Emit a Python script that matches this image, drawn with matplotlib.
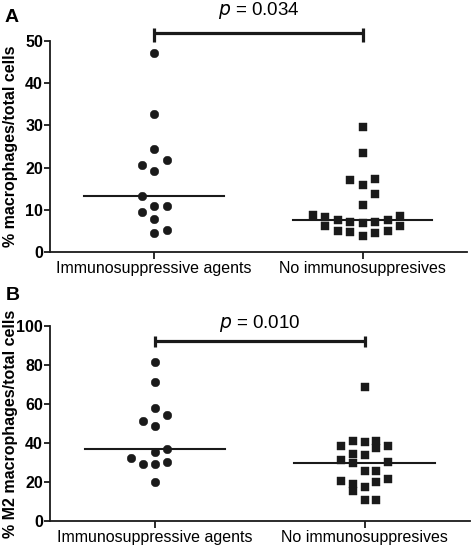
import numpy as np
import matplotlib
matplotlib.use("Agg")
import matplotlib.pyplot as plt

plt.rcParams['font.family'] = ['Liberation Sans', 'DejaVu Sans']

groups = ["Immunosuppressive agents", "No immunosuppresives"]

# panel A: % macrophages / total cells
a_immuno = [47.2, 32.8, 24.3, 21.7, 20.6, 19.1, 13.2, 10.8, 10.8, 9.4, 7.9, 5.1, 4.6]
a_immuno_col = [0, 0, 0, 1, -1, 0, -1, 0, 1, -1, 0, 1, 0]
a_none = [29.7, 23.4, 17.1, 15.9, 17.4, 13.7, 11.1, 8.8, 8.3, 6.2, 7.6, 7.1, 6.9,
          7.1, 7.6, 8.5, 6.2, 5.0, 4.7, 3.9, 4.4, 5.0]
a_none_col = [0, 0, -1, 0, 1, 1, 0, -4, -3, -3, -2, -1, 0, 1, 2, 3, 3, -2, -1, 0, 1, 2]
a_p = "0.034"

# panel B: % M2 macrophages / total cells
b_immuno = [81.7, 71.4, 57.7, 54.5, 51.2, 48.7, 37.1, 35.4, 32.4, 30.5, 29.0, 29.0, 19.9]
b_immuno_col = [0, 0, 0, 1, -1, 0, 1, 0, -2, 1, -1, 0, 0]
b_none = [68.8, 38.5, 41.1, 40.6, 41.1, 37.2, 38.5, 34.6, 33.7, 31.2, 29.8, 30.1,
          25.5, 25.5, 20.5, 19.2, 15.3, 17.2, 19.9, 21.4, 10.6, 11.0]
b_none_col = [0, -2, -1, 0, 1, 1, 2, -1, 0, -2, -1, 2, 0, 1, -2, -1, -1, 0, 1, 2, 0, 1]
b_p = "0.010"

INK = '#1a1a1a'


def panel(ax, immuno, immuno_col, none, none_col, ymax, ystep, spacing,
          ylabel, p, bar_y, tick_lo, text_y):
    for i, (vals, cols, mk, ms) in enumerate([(immuno, immuno_col, 'o', 6.2),
                                              (none, none_col, 's', 5.6)]):
        x = i + np.array(cols) * spacing
        ax.plot(x, vals, mk, ms=ms, color=INK, mec=INK, mew=0.3, clip_on=False, zorder=3)
        med = np.median(vals)
        ax.plot([i - 0.335, i + 0.335], [med, med], color=INK, lw=1.5, zorder=2)

    # significance bar
    kw = dict(color=INK, lw=2.3, clip_on=False, solid_capstyle='butt')
    ax.plot([0, 1], [bar_y, bar_y], **kw)
    ax.plot([0, 0], [tick_lo, bar_y + 0.025 * ymax], **kw)
    ax.plot([1, 1], [tick_lo, bar_y + 0.025 * ymax], **kw)
    ax.text(0.5, text_y, r"$\it{p}$ = " + p, ha='center', va='baseline', fontsize=13.5)

    ax.set_xlim(-0.5, 1.5)
    ax.set_ylim(0, ymax)
    ax.set_yticks(np.arange(0, ymax + 1, ystep))
    ax.set_xticks([0, 1])
    ax.set_xticklabels(groups, fontsize=11.5)
    for t in ax.get_yticklabels():
        t.set_fontweight('bold')
        t.set_fontsize(11.5)
    ax.tick_params(axis='y', length=4, width=1.3, pad=1, color=INK)
    ax.tick_params(axis='x', length=5, width=1.3, pad=1.5, color=INK)
    for s in ['top', 'right']:
        ax.spines[s].set_visible(False)
    for s in ['left', 'bottom']:
        ax.spines[s].set_linewidth(1.3)
        ax.spines[s].set_color(INK)
    ax.set_ylabel(ylabel, fontsize=11.5, fontweight='bold')
    ax.yaxis.set_label_coords(-0.077, 0.5)


fig = plt.figure(figsize=(4.72, 5.45), dpi=100)
ax1 = fig.add_axes([0.106, 0.5376, 0.883, 0.3872])
ax2 = fig.add_axes([0.106, 0.044, 0.889, 0.358])

panel(ax1, a_immuno, a_immuno_col, a_none, a_none_col, 50, 10, 0.06,
      "% macrophages/total cells", a_p, 51.9, 49.8, 56.2)
panel(ax2, b_immuno, b_immuno_col, b_none, b_none_col, 100, 20, 0.056,
      "% M2 macrophages/total cells", b_p, 92.4, 89.0, 98.8)

fig.text(5 / 472, 1 - 22 / 545, "A", fontsize=14, fontweight='bold')
fig.text(6 / 472, 1 - 300 / 545, "B", fontsize=14, fontweight='bold')

fig.savefig("out.png", dpi=100)
